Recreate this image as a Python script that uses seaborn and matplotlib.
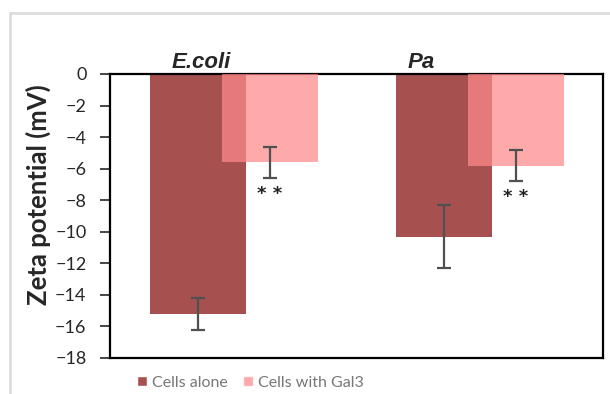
import matplotlib
matplotlib.use("Agg")
import matplotlib.pyplot as plt
from matplotlib.lines import Line2D
import numpy as np
import pandas as pd
import seaborn as sns

# data
strains = ["E.coli", "Pa"]
conditions = ["Cells alone", "Cells with Gal3"]
alone_mean = [-15.2, -10.3]
alone_sd = [1.0, 2.0]
gal3_mean = [-5.6, -5.8]
gal3_sd = [1.0, 1.0]
significance = ["* *", "* *"]

sns.set_theme(style="white")
plt.rcParams["font.family"] = ["Lato", "DejaVu Sans"]

df = pd.DataFrame({
    "strain": strains * 2,
    "condition": [conditions[0]] * 2 + [conditions[1]] * 2,
    "zeta": alone_mean + gal3_mean,
})

fig = plt.figure(figsize=(6.1, 3.94), dpi=100)
ax = fig.add_axes([110 / 610, 36 / 394, 493 / 610, 284 / 394])

palette = {conditions[0]: "#a65050", conditions[1]: "#ff8989"}
sns.barplot(data=df, x="strain", y="zeta", hue="condition", order=strains,
            hue_order=conditions, palette=palette, width=0.78, errorbar=None,
            saturation=1, ax=ax, legend=True)

# make the two bars of a group overlap like the original
shift = 0.049
n = len(strains)
for i, p in enumerate(ax.patches[:2 * n]):
    p.set_linewidth(0)
    if i < n:
        p.set_x(p.get_x() + shift)
        p.set_zorder(2)
    else:
        p.set_x(p.get_x() - shift)
        p.set_alpha(0.72)
        p.set_zorder(3)

centers_alone = [p.get_x() + p.get_width() / 2 for p in ax.patches[:n]]
centers_gal3 = [p.get_x() + p.get_width() / 2 for p in ax.patches[n:2 * n]]

ekw = dict(fmt="none", ecolor="#505050", elinewidth=1.6, capsize=5, capthick=1.6, zorder=5)
ax.errorbar(centers_alone, alone_mean, yerr=alone_sd, **ekw)
ax.errorbar(centers_gal3, gal3_mean, yerr=gal3_sd, **ekw)

for x, m, s, t in zip(centers_gal3, gal3_mean, gal3_sd, significance):
    ax.text(x, m - s - 1.0, t, ha="center", va="center", fontsize=13,
            fontweight="bold", color="#222222", family="DejaVu Sans")

ax.set_ylim(-18, 0)
ax.set_xlim(-0.504, 1.5)
ax.set_yticks(np.arange(-18, 1, 2))
ax.set_yticklabels([f"\u2212{-v}" if v < 0 else str(v) for v in range(-18, 1, 2)])
ax.set_xticks([])
ax.set_xlabel("")
ax.set_ylabel("Zeta potential (mV)", fontsize=18.5, fontweight="bold")
ax.yaxis.set_label_coords(-0.12, 0.574)
ax.tick_params(axis="y", which="major", labelsize=13, length=7, width=1.2,
               left=True, direction="out", pad=10)
for sp in ax.spines.values():
    sp.set_visible(True)
    sp.set_color("black")
    sp.set_linewidth(1.6)

# strain names above the plot
fig.text(201 / 610, 1 - 62 / 394, strains[0], ha="center", va="center",
         fontsize=16, fontweight="bold", style="italic", family="Liberation Sans")
fig.text(421 / 610, 1 - 62 / 394, strains[1], ha="center", va="center",
         fontsize=16, fontweight="bold", style="italic", family="Liberation Sans")

handles, labels = ax.get_legend_handles_labels()
ax.get_legend().remove()
handles[1].set_alpha(0.72)
leg = fig.legend(handles, labels, loc="center left", bbox_to_anchor=(0.225, 0.028),
                 ncol=2, frameon=False, fontsize=11.5, handlelength=0.6,
                 handleheight=0.6, handletextpad=0.3, columnspacing=1.0,
                 borderpad=0, borderaxespad=0)
for t in leg.get_texts():
    t.set_color("#777777")

# light grey frame of the original image
fig.add_artist(Line2D([10 / 610, 1], [1 - 13 / 394] * 2, color="#dddddd", lw=2,
                      transform=fig.transFigure))
fig.add_artist(Line2D([10 / 610] * 2, [0, 1 - 13 / 394], color="#dddddd", lw=2,
                      transform=fig.transFigure))

fig.savefig("out.png", dpi=100)
